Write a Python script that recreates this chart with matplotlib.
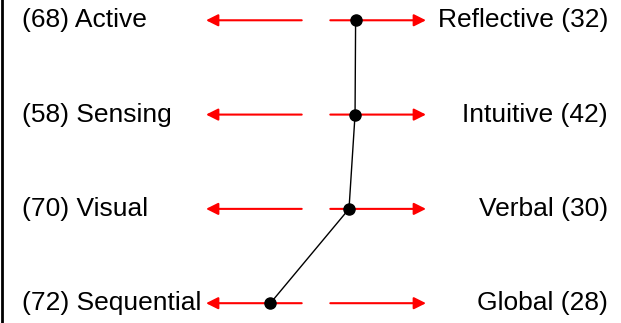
import matplotlib
matplotlib.use("Agg")
from matplotlib import pyplot as plt

# learning style dimensions (left pole, right pole) with percentages
left_poles = ["Active", "Sensing", "Visual", "Sequential"]
left_pcts = [68, 58, 70, 72]
right_poles = ["Reflective", "Intuitive", "Verbal", "Global"]
right_pcts = [32, 42, 30, 28]

# position of the profile point on each scale (-1 = left end, 1 = right end)
scores = [0.36, 0.355, 0.30, -0.415]

plt.rcParams["font.family"] = ["Liberation Sans", "DejaVu Sans"]

fig = plt.figure(figsize=(6.21, 3.23), dpi=100)
ax = fig.add_axes([2 / 621, 0, 619 / 621, 1])
ax.set_xlim(-2.855, 2.773)
ax.set_ylim(3.21, -0.215)
ax.set_xticks([])
ax.set_yticks([])
for side in ["top", "right", "bottom"]:
    ax.spines[side].set_visible(False)
ax.spines["left"].set_linewidth(2)

gap = 0.13
rows = range(len(left_poles))
arrow = dict(arrowstyle="-|>,head_length=0.6,head_width=0.3", color="red",
             lw=1.5, shrinkA=0, shrinkB=0, mutation_scale=12)
for i in rows:
    # left arrow and right arrow
    ax.annotate("", xy=(-1, i), xytext=(-gap, i), arrowprops=arrow)
    ax.annotate("", xy=(1, i), xytext=(gap, i), arrowprops=arrow)
    ax.text(-2.673, i, f"({left_pcts[i]}) {left_poles[i]}", ha="left",
            va="center", fontsize=19)
    ax.text(2.655, i, f"{right_poles[i]} ({right_pcts[i]})", ha="right",
            va="center", fontsize=19)

ax.plot(scores, list(rows), "k-", lw=1, zorder=3)
ax.plot(scores, list(rows), "ko", ms=8, zorder=4)

plt.savefig("out.png", dpi=100)
